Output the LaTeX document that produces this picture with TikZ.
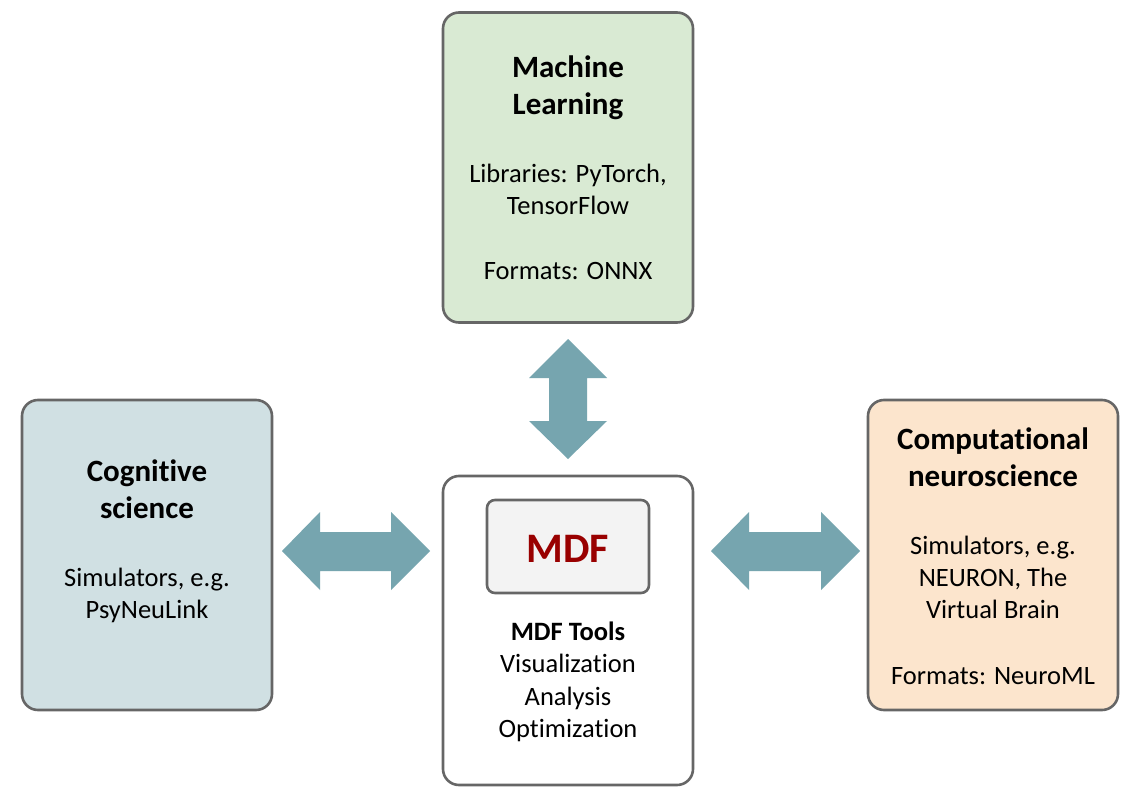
\documentclass[tikz,border=0pt]{standalone}
\usepackage{fontspec}
\setmainfont{Carlito}[Ligatures=NoCommon]
\definecolor{mlgreen}{HTML}{D9EAD3}
\definecolor{cogblue}{HTML}{D0E0E3}
\definecolor{compor}{HTML}{FCE5CD}
\definecolor{arrowc}{HTML}{76A5AF}
\definecolor{borderc}{HTML}{666666}
\definecolor{mdfgray}{HTML}{F3F3F3}
\definecolor{mdfred}{HTML}{990000}
\begin{document}
\begin{tikzpicture}[x=1pt,y=-1pt,
  box/.style={draw=borderc, line width=2.6pt, rounded corners=16pt, minimum width=250pt, minimum height=310pt, inner sep=0pt},
  ttl/.style={anchor=base, inner sep=0pt, font=\fontsize{31}{37}\selectfont\bfseries},
  bodytxt/.style={anchor=base, inner sep=0pt, font=\fontsize{26.5}{32}\selectfont},
  blockarrow/.style={fill=arrowc, draw=none}]
\useasboundingbox (0,0) rectangle (1140,797);
\fill[white] (0,0) rectangle (1140,797);
% boxes
\node[box, fill=mlgreen] (ml) at (568,167.5) {};
\node[box, fill=cogblue] (cog) at (147,555) {};
\node[box, fill=compor] (comp) at (993,555) {};
\node[box, fill=white, minimum height=309pt] (mdf) at (568,630.5) {};
\node[draw=borderc, line width=2.6pt, rounded corners=8pt, fill=mdfgray, minimum width=162pt, minimum height=93pt, inner sep=0pt] (mdfin) at (568,546.5) {};
% ML text
\node[ttl] (ml1) at (568,78) {Machine};
\node[ttl] (ml2) at (568,115) {Learning};
\node[bodytxt] (ml3) at (568,182) {Libraries: PyTorch,};
\node[bodytxt] (ml4) at (568,214) {TensorFlow};
\node[bodytxt] (ml5) at (568,279) {Formats: ONNX};
% Cognitive text
\node[ttl] (cg1) at (147,481) {Cognitive};
\node[ttl] (cg2) at (147,518) {science};
\node[bodytxt] (cg3) at (147,586) {Simulators, e.g.};
\node[bodytxt] (cg4) at (147,618) {PsyNeuLink};
% Comp text
\node[ttl] (cp1) at (993,449) {Computational};
\node[ttl] (cp2) at (993,486) {neuroscience};
\node[bodytxt] (cp3) at (993,554) {Simulators, e.g.};
\node[bodytxt] (cp4) at (993,586) {NEURON, The};
\node[bodytxt] (cp5) at (993,618) {Virtual Brain};
\node[bodytxt] (cp6) at (993,684) {Formats: NeuroML};
% MDF text
\node[anchor=base, inner sep=0pt, font=\fontsize{42}{48}\selectfont\bfseries, text=mdfred] (mdft) at (568,562) {MDF};
\node[bodytxt, font=\fontsize{26.5}{32}\selectfont\bfseries] (md1) at (568,640) {MDF Tools};
\node[bodytxt] (md2) at (568,672) {Visualization};
\node[bodytxt] (md3) at (568,705) {Analysis};
\node[bodytxt] (md4) at (568,737) {Optimization};
% arrows
\fill[blockarrow] (568,339) -- (607,378) -- (587,378) -- (587,421) -- (607,421) -- (568,459)
  -- (529,421) -- (549,421) -- (549,378) -- (529,378) -- cycle;
\fill[blockarrow] (282,551) -- (320,512) -- (320,532) -- (391,532) -- (391,512) -- (430,551)
  -- (391,590) -- (391,571) -- (320,571) -- (320,590) -- cycle;
\fill[blockarrow] (711,551) -- (749,512) -- (749,532) -- (821,532) -- (821,512) -- (860,551)
  -- (821,590) -- (821,571) -- (749,571) -- (749,590) -- cycle;
\end{tikzpicture}
\end{document}
